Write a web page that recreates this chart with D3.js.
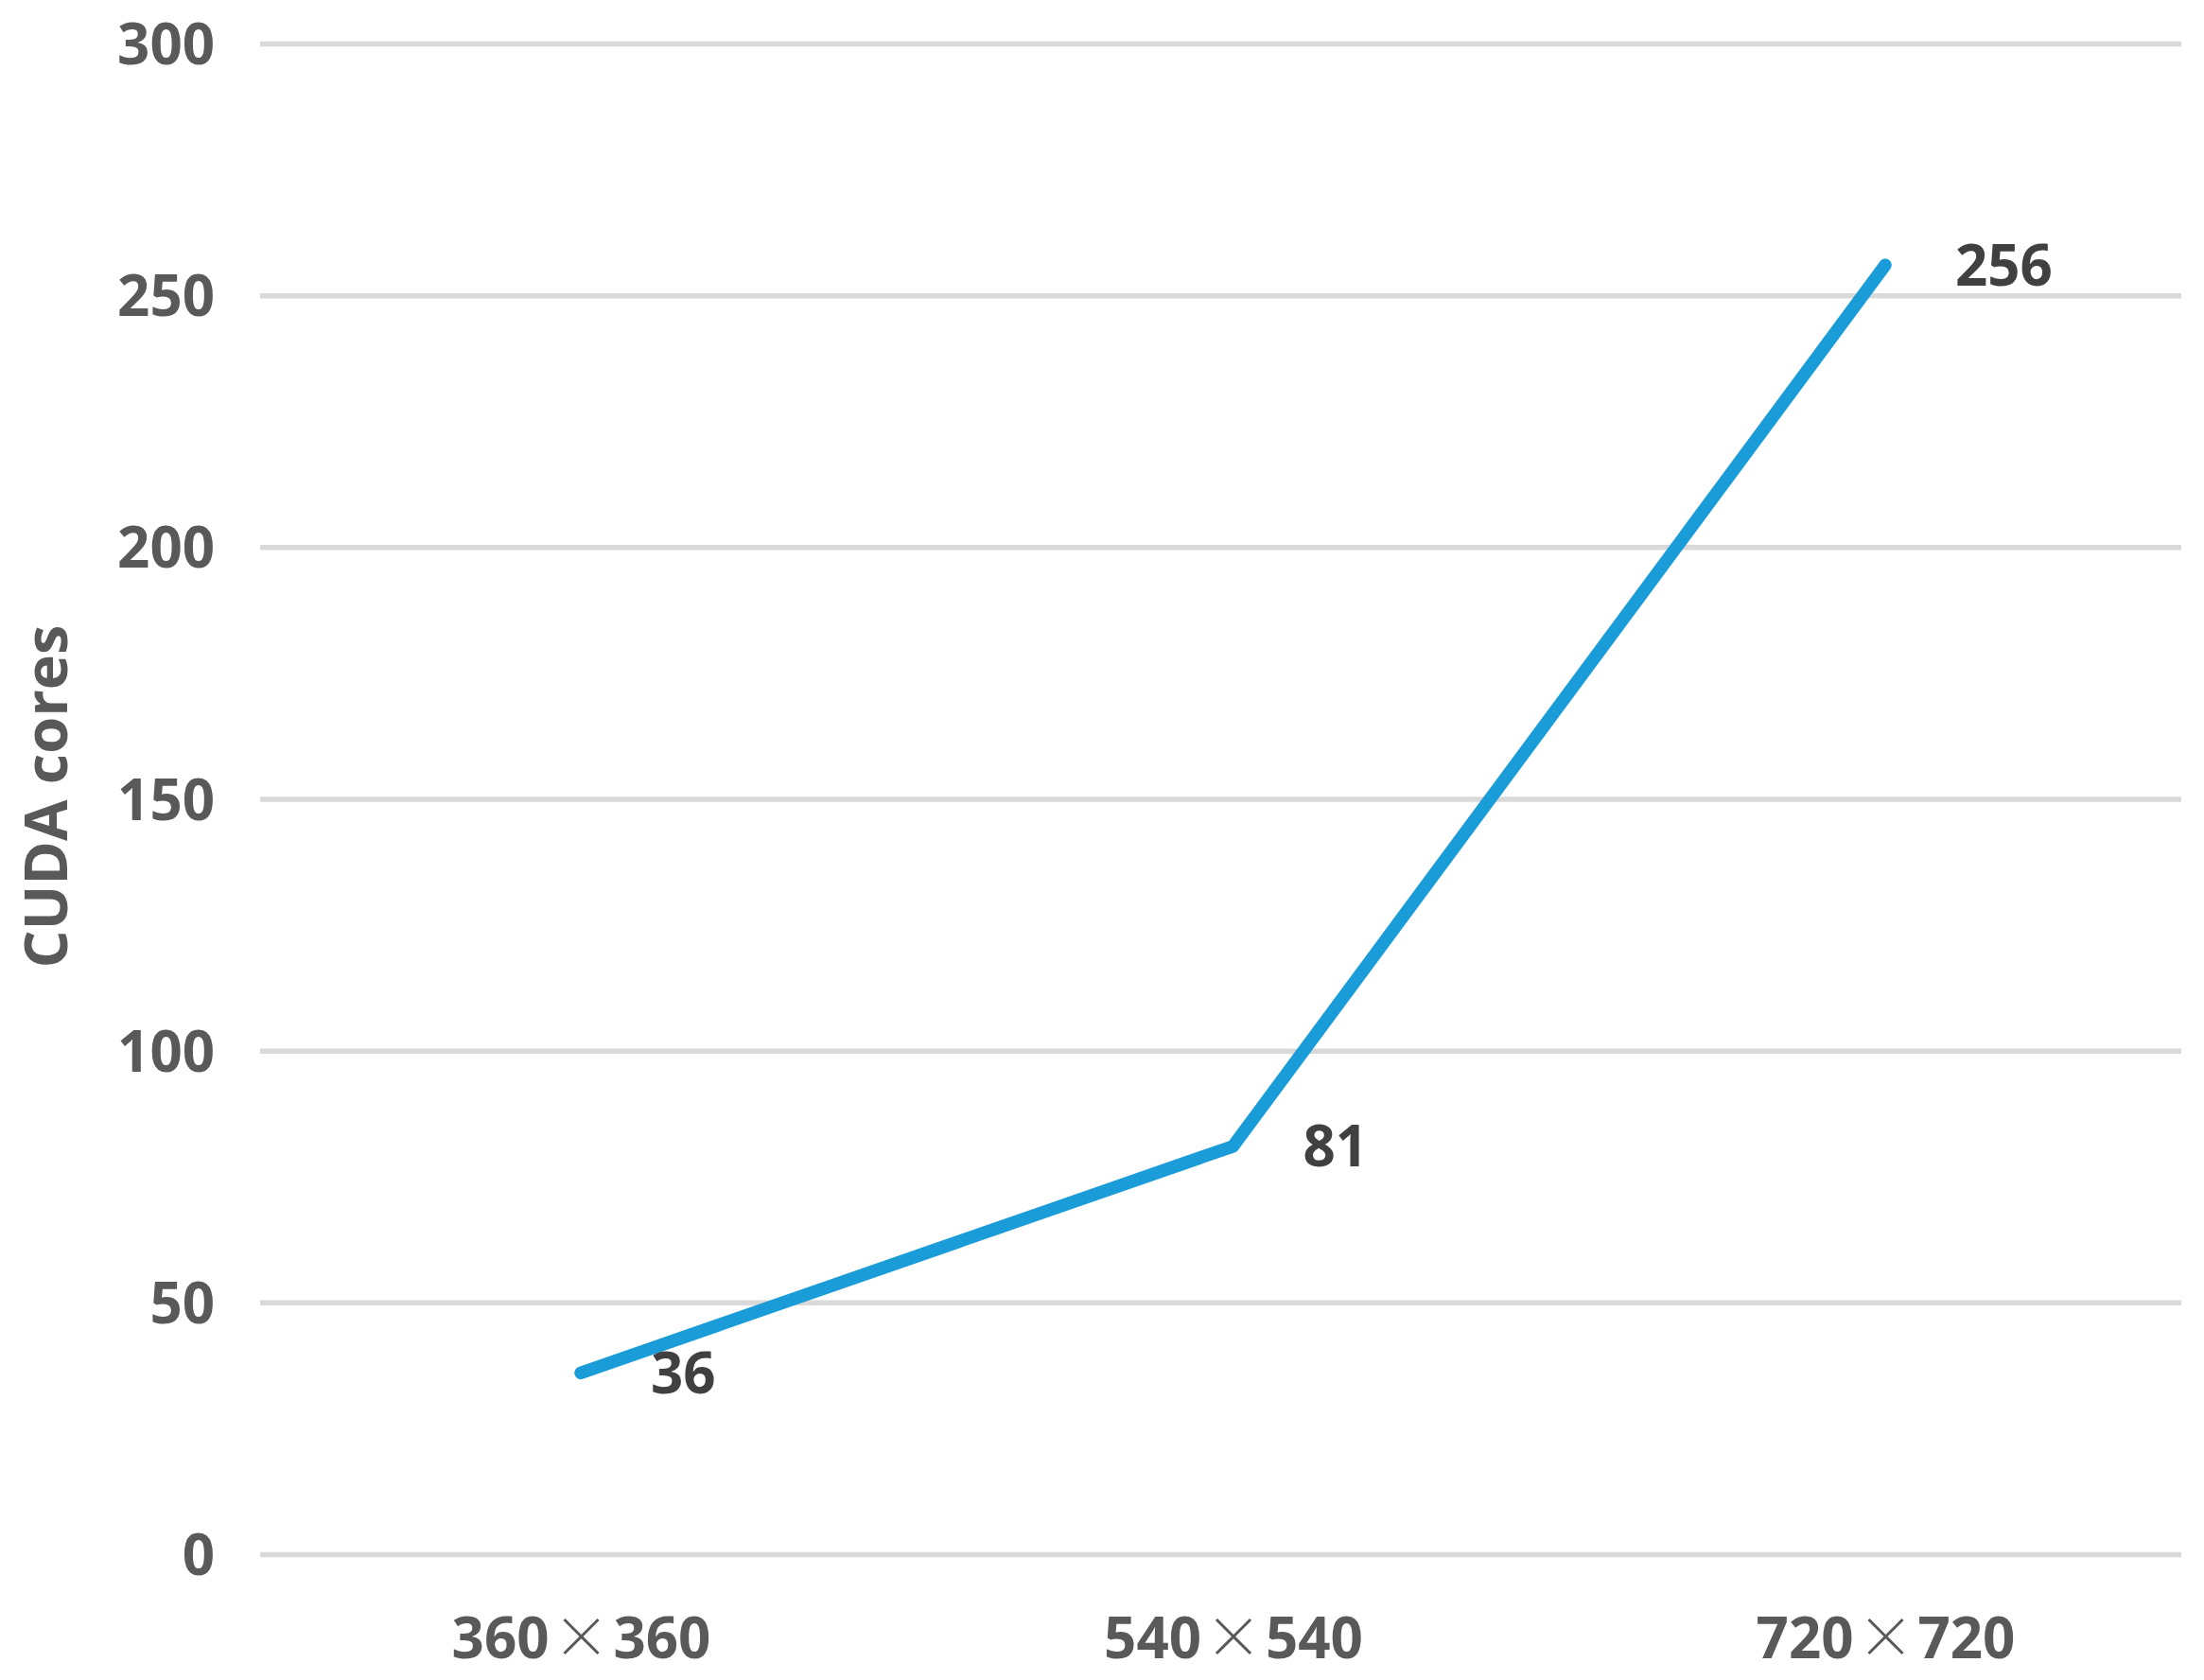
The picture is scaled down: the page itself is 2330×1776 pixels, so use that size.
<!DOCTYPE html>
<html>
<head>
<meta charset="utf-8">
<script src="https://cdn.jsdelivr.net/npm/d3@7"></script>
<style>
	body { margin: 0; background: #fff; }
	svg { display: block; }
	.axis text { font-family: "Open Sans", "Noto Sans", sans-serif; font-weight: 700; fill: #595959; }
	.axis--y line { stroke: #d9d9d9; stroke-width: 5.5; }
	.axis path { display: none; }
	.label { font-family: "Open Sans", "Noto Sans", sans-serif; font-weight: 700; fill: #404040; }
</style>
</head>
<body>
<div class="chart"></div>
<script>
// data
const categories = ['360', '540', '720'];
const cudaCores = [36, 81, 256];
const yTicks = [0, 50, 100, 150, 200, 250, 300];

// dimension stuff
const FONT_SIZE = 60;
const W = 2330;
const H = 1776;
const marginTop = 46;
const marginBottom = 133;
const marginLeft = 275;
const marginRight = 24;
const width = W - marginLeft - marginRight;
const height = H - marginTop - marginBottom;

const data = categories.map((c, i) => ({ cat: c, value: cudaCores[i] }));

// scales
const scaleX = d3.scalePoint().domain(categories).range([339, 1718]);
const scaleY = d3.scaleLinear().domain([0, 300]).range([height, 0]);

const $svg = d3.select('.chart').append('svg')
	.attr('width', W)
	.attr('height', H);

const $g = $svg.append('g')
	.attr('transform', `translate(${marginLeft}, ${marginTop})`);

// y axis + gridlines
const axisY = d3.axisLeft(scaleY)
	.tickValues(yTicks)
	.tickSize(-width)
	.tickPadding(48);

$g.append('g')
	.attr('class', 'axis axis--y')
	.call(axisY)
	.call(g => g.selectAll('text')
		.attr('font-size', FONT_SIZE)
		.attr('dy', '0.36em'));

// x axis labels (360×360 etc.)
const axisX = d3.axisBottom(scaleX).tickSize(0).tickPadding(0);
const $ax = $g.append('g')
	.attr('class', 'axis axis--x')
	.attr('transform', `translate(0, ${height})`)
	.call(axisX);

$ax.selectAll('text')
	.attr('font-size', FONT_SIZE)
	.attr('y', 110)
	.attr('dy', 0)
	.text(null)
	.each(function(d) {
		const $t = d3.select(this);
		$t.append('tspan').text(d);
		$t.append('tspan')
			.attr('font-family', '"Noto Sans CJK SC", sans-serif')
			.attr('font-weight', 300)
			.attr('dx', 4)
			.text('×');
		$t.append('tspan').attr('dx', 4).text(d);
	});

// y axis title
$svg.append('text')
	.attr('class', 'axis')
	.attr('transform', `translate(48, 842) rotate(-90)`)
	.attr('text-anchor', 'middle')
	.attr('dy', '0.36em')
	.attr('font-size', 63)
	.style('font-family', '"Open Sans", "Noto Sans", sans-serif')
	.style('font-weight', 700)
	.style('fill', '#595959')
	.text('CUDA cores');

// line
const line = d3.line()
	.x(d => scaleX(d.cat))
	.y(d => scaleY(d.value));

$g.append('path')
	.datum(data)
	.attr('d', line)
	.attr('fill', 'none')
	.attr('stroke', '#1a9cd8')
	.attr('stroke-width', 13.5)
	.attr('stroke-linecap', 'round')
	.attr('stroke-linejoin', 'round');

// data labels
$g.selectAll('text.label')
	.data(data)
	.enter()
	.append('text')
	.attr('class', 'label')
	.attr('x', d => scaleX(d.cat) + 74)
	.attr('y', d => scaleY(d.value))
	.attr('dy', '0.36em')
	.attr('font-size', FONT_SIZE)
	.text(d => d.value);
</script>
</body>
</html>
